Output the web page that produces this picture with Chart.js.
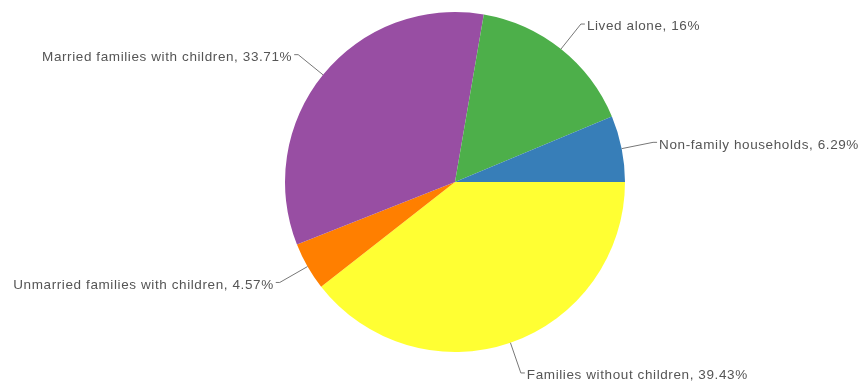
<!DOCTYPE html>
<html>
<head>
<meta charset="utf-8">
<script src="https://cdn.jsdelivr.net/npm/chart.js@4"></script>
<style>
  html, body { margin: 0; padding: 0; background: #fff; }
  #wrap { width: 863px; height: 381px; }
</style>
</head>
<body>
<div id="wrap"><canvas id="pieChart" width="863" height="381"></canvas></div>
<script>
// household types, clockwise from 3 o'clock
const categories = [
  'Families without children',
  'Unmarried families with children',
  'Married families with children',
  'Lived alone',
  'Non-family households',
];
const shares = [39.43, 4.57, 33.71, 16, 6.29];
const sliceColors = ['#ffff33', '#ff7f00', '#984ea3', '#4daf4a', '#377eb8'];

// ── leader-line labels drawn outside the pie ──
const outsideLabels = {
  id: 'outsideLabels',
  afterDraw(chart) {
    const ctx = chart.ctx;
    const meta = chart.getDatasetMeta(0);
    ctx.save();
    ctx.font = '13.5px "Liberation Sans", Arial, sans-serif';
    ctx.letterSpacing = '0.6px';
    ctx.fillStyle = '#555';
    ctx.strokeStyle = '#777';
    ctx.lineWidth = 1;
    ctx.textBaseline = 'middle';
    meta.data.forEach((arc, i) => {
      const { x, y, startAngle, endAngle, outerRadius } = arc.getProps(['x', 'y', 'startAngle', 'endAngle', 'outerRadius'], true);
      const mid = (startAngle + endAngle) / 2;
      const cos = Math.cos(mid), sin = Math.sin(mid);
      const ex = x + cos * outerRadius, ey = y + sin * outerRadius;
      const bx = x + cos * (outerRadius + 32), by = y + sin * (outerRadius + 32);
      const right = cos >= 0;
      const hx = bx + (right ? 4 : -4);
      ctx.beginPath();
      ctx.moveTo(ex, ey);
      ctx.lineTo(bx, by);
      ctx.lineTo(hx, by);
      ctx.stroke();
      ctx.textAlign = right ? 'left' : 'right';
      const txt = `${categories[i]}, ${shares[i]}%`;
      ctx.fillText(txt, hx + (right ? 2 : -2), by + 2.5);
    });
    ctx.restore();
  },
};

window.addEventListener('DOMContentLoaded', () => {
  const canvas = document.getElementById('pieChart');
  new Chart(canvas.getContext('2d'), {
    type: 'pie',
    data: {
      labels: categories,
      datasets: [{
        data: shares,
        backgroundColor: sliceColors,
        borderWidth: 0,
      }],
    },
    options: {
      responsive: false,
      animation: false,
      rotation: 90,
      layout: { padding: { left: 285, right: 238, top: 12, bottom: 29 } },
      plugins: {
        legend: { display: false },
        tooltip: { enabled: false },
      },
    },
    plugins: [outsideLabels],
  });
});
</script>
</body>
</html>
